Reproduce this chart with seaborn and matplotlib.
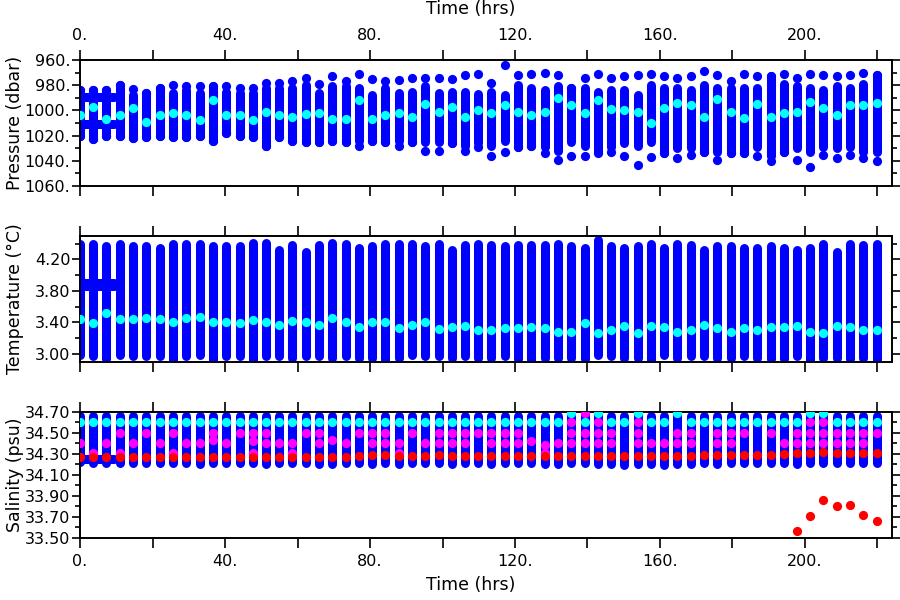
import numpy as np
import pandas as pd
import seaborn as sns
import matplotlib.pyplot as plt
from matplotlib.ticker import MultipleLocator, FixedLocator, FuncFormatter

# --- DATA ---
nan = np.nan

# profile times (hrs)
time_hrs = [0.0, 3.7, 7.3, 11.0, 14.7, 18.3, 22.0, 25.6, 29.3, 33.0,
            36.6, 40.3, 44.0, 47.6, 51.3, 54.9, 58.6, 62.3, 65.9, 69.6,
            73.3, 76.9, 80.6, 84.2, 87.9, 91.6, 95.2, 98.9, 102.6, 106.2,
            109.9, 113.5, 117.2, 120.9, 124.5, 128.2, 131.9, 135.5, 139.2, 142.9,
            146.5, 150.2, 153.8, 157.5, 161.2, 164.8, 168.5, 172.2, 175.8, 179.5,
            183.2, 186.8, 190.5, 194.1, 197.8, 201.5, 205.1, 208.8, 212.5, 216.1,
            219.8]

# short series at the start, drawn as horizontal rows of dots
band_t = [0.0, 9.5]

# pressure (dbar)
p_top = [984, 984, 984, 980, 983, 986, 982, 980, 981, 981,
         981, 981, 982, 982, 978, 978, 977, 974, 979, 973,
         977, 971, 975, 977, 976, 974, 974, 974, 975, 972,
         971, 978, 964, 972, 971, 970, 972, 982, 974, 971,
         974, 973, 972, 971, 973, 974, 973, 969, 972, 977,
         971, 973, 973, 971, 974, 971, 972, 973, 972, 970,
         972]
p_body_top = [984, 984, 984, 980, 988, 986, 982, 986, 984, 986,
              981, 985, 986, 986, 982, 982, 982, 980, 986, 981,
              981, 982, 988, 982, 986, 985, 981, 986, 985, 985,
              987, 985, 988, 980, 982, 984, 981, 982, 982, 985,
              984, 984, 988, 980, 982, 982, 984, 980, 982, 982,
              982, 982, 973, 979, 981, 982, 984, 981, 982, 979,
              972]
p_body_bot = [1020, 1023, 1020, 1020, 1022, 1021, 1020, 1021, 1021, 1020,
              1024, 1018, 1020, 1021, 1028, 1021, 1024, 1025, 1025, 1024,
              1025, 1024, 1024, 1025, 1024, 1025, 1025, 1025, 1026, 1028,
              1026, 1028, 1024, 1029, 1028, 1029, 1032, 1025, 1028, 1032,
              1029, 1026, 1028, 1025, 1034, 1030, 1030, 1033, 1033, 1034,
              1034, 1029, 1036, 1033, 1030, 1033, 1029, 1030, 1029, 1033,
              1033]
p_bot = [1020, 1023, 1020, 1020, 1022, 1021, 1020, 1021, 1021, 1020,
         1024, 1018, 1020, 1021, 1028, 1021, 1024, 1025, 1025, 1024,
         1025, 1028, 1024, 1025, 1028, 1025, 1032, 1032, 1026, 1032,
         1029, 1036, 1033, 1029, 1028, 1034, 1039, 1036, 1036, 1034,
         1033, 1036, 1043, 1037, 1034, 1038, 1035, 1033, 1039, 1034,
         1034, 1036, 1040, 1033, 1039, 1045, 1035, 1038, 1035, 1038,
         1040]
p_mean = [1004, 997, 1007, 1004, 998, 1009, 1004, 1002, 1004, 1008,
          992, 1004, 1004, 1008, 1001, 1004, 1005, 1003, 1002, 1007,
          1007, 992, 1007, 1004, 1002, 1005, 995, 1001, 997, 1005,
          1000, 1002, 996, 1001, 1004, 1001, 990, 996, 1002, 992,
          999, 1000, 1001, 1010, 998, 994, 996, 1005, 991, 1001,
          1006, 995, 1005, 1002, 1001, 993, 998, 1004, 996, 996,
          994]
p_band = [989, 1011]

# temperature (deg C)
t_top = [4.39, 4.39, 4.37, 4.39, 4.37, 4.37, 4.35, 4.39, 4.39, 4.39,
         4.37, 4.37, 4.37, 4.41, 4.41, 4.32, 4.38, 4.30, 4.38, 4.41,
         4.39, 4.34, 4.37, 4.39, 4.39, 4.39, 4.37, 4.39, 4.32, 4.38,
         4.39, 4.38, 4.37, 4.38, 4.38, 4.38, 4.40, 4.37, 4.34, 4.45,
         4.37, 4.34, 4.37, 4.40, 4.34, 4.39, 4.38, 4.32, 4.37, 4.37,
         4.35, 4.34, 4.37, 4.34, 4.32, 4.35, 4.39, 4.30, 4.39, 4.38,
         4.39]
t_bot = [2.99, 2.98, 2.93, 2.99, 2.97, 2.97, 2.97, 2.92, 2.97, 2.99,
         2.92, 2.97, 2.97, 2.92, 2.97, 2.97, 2.95, 2.97, 2.97, 2.95,
         2.97, 2.95, 2.95, 2.92, 2.95, 2.99, 2.97, 2.97, 2.95, 2.97,
         2.95, 2.95, 2.97, 2.93, 2.92, 2.95, 2.95, 2.95, 2.93, 2.99,
         2.97, 2.95, 2.95, 2.92, 2.99, 2.95, 2.97, 2.97, 2.95, 2.95,
         2.97, 2.95, 2.93, 2.94, 2.97, 2.92, 2.95, 2.95, 2.93, 2.95,
         2.92]
t_mean = [3.44, 3.39, 3.52, 3.44, 3.44, 3.45, 3.44, 3.40, 3.45, 3.47,
          3.40, 3.40, 3.39, 3.43, 3.41, 3.37, 3.42, 3.40, 3.37, 3.45,
          3.41, 3.34, 3.40, 3.41, 3.33, 3.37, 3.40, 3.32, 3.34, 3.35,
          3.31, 3.30, 3.33, 3.33, 3.34, 3.33, 3.28, 3.28, 3.39, 3.26,
          3.30, 3.35, 3.27, 3.36, 3.34, 3.28, 3.30, 3.37, 3.33, 3.28,
          3.33, 3.30, 3.34, 3.34, 3.35, 3.28, 3.26, 3.35, 3.34, 3.30,
          3.30]
t_band = [3.90, 3.86]

# salinity (psu)
s_top = [34.66, 34.66, 34.66, 34.66, 34.66, 34.66, 34.66, 34.66, 34.66, 34.66,
         34.66, 34.66, 34.66, 34.66, 34.66, 34.66, 34.66, 34.66, 34.66, 34.66,
         34.66, 34.66, 34.66, 34.66, 34.66, 34.66, 34.66, 34.66, 34.66, 34.66,
         34.66, 34.66, 34.66, 34.66, 34.66, 34.66, 34.66, 34.68, 34.68, 34.68,
         34.66, 34.66, 34.68, 34.66, 34.66, 34.68, 34.66, 34.66, 34.66, 34.66,
         34.66, 34.66, 34.66, 34.66, 34.66, 34.68, 34.68, 34.66, 34.66, 34.66,
         34.66]
s_bot = [34.22, 34.21, 34.21, 34.21, 34.21, 34.21, 34.21, 34.21, 34.21, 34.20,
         34.21, 34.21, 34.21, 34.21, 34.20, 34.21, 34.21, 34.21, 34.20, 34.20,
         34.21, 34.21, 34.20, 34.21, 34.20, 34.21, 34.21, 34.21, 34.20, 34.21,
         34.21, 34.20, 34.21, 34.21, 34.21, 34.20, 34.20, 34.21, 34.21, 34.20,
         34.20, 34.19, 34.20, 34.20, 34.19, 34.20, 34.20, 34.21, 34.20, 34.21,
         34.21, 34.21, 34.21, 34.21, 34.20, 34.21, 34.21, 34.21, 34.21, 34.21,
         34.21]
s_cyan = [34.60, 34.60, 34.60, 34.60, 34.60, 34.60, 34.60, 34.60, 34.60, 34.60,
          34.60, 34.60, 34.60, 34.60, 34.60, 34.60, 34.60, 34.60, 34.60, 34.60,
          34.60, 34.60, 34.60, 34.60, 34.60, 34.60, 34.60, 34.60, 34.60, 34.60,
          34.60, 34.60, 34.60, 34.60, 34.60, 34.60, 34.60, 34.69, 34.60, 34.69,
          34.60, 34.60, 34.69, 34.60, 34.60, 34.69, 34.60, 34.60, 34.60, 34.60,
          34.60, 34.60, 34.60, 34.60, 34.60, 34.69, 34.69, 34.60, 34.60, 34.60,
          34.60]
s_mag_top = [nan, nan, nan, nan, nan, nan, nan, nan, nan, nan,
             nan, nan, nan, nan, nan, nan, nan, nan, nan, nan,
             nan, nan, nan, nan, nan, nan, nan, nan, nan, nan,
             nan, nan, nan, nan, nan, nan, nan, 34.60, 34.69, 34.60,
             nan, nan, 34.60, nan, nan, nan, nan, nan, nan, nan,
             nan, nan, nan, nan, nan, 34.60, 34.60, nan, nan, nan,
             nan]
s_mag_a = [nan, nan, nan, 34.50, nan, 34.50, nan, 34.50, nan, nan,
           34.50, nan, 34.50, 34.50, 34.50, nan, nan, 34.50, 34.50, nan,
           nan, 34.50, 34.50, 34.50, nan, 34.50, nan, 34.50, 34.50, 34.50,
           34.50, 34.50, 34.50, 34.50, nan, nan, nan, 34.50, 34.50, 34.50,
           34.50, nan, 34.50, nan, nan, 34.50, 34.50, nan, 34.50, 34.50,
           34.50, nan, 34.50, nan, 34.50, 34.50, 34.50, 34.50, 34.50, 34.50,
           34.50]
s_mag_b = [34.40, nan, 34.40, nan, 34.40, nan, 34.40, nan, 34.40, 34.40,
           34.43, 34.40, nan, 34.42, 34.40, 34.40, 34.40, nan, 34.40, 34.43,
           34.40, nan, 34.40, 34.40, 34.40, nan, 34.40, 34.40, 34.40, 34.40,
           nan, 34.40, 34.40, 34.40, 34.42, 34.38, 34.40, 34.40, 34.40, 34.40,
           34.40, nan, 34.40, 34.40, 34.40, 34.40, 34.40, nan, 34.40, 34.40,
           nan, nan, nan, 34.40, 34.40, 34.40, 34.40, 34.40, 34.40, 34.40,
           nan]
s_mag_c = [nan, 34.31, nan, 34.31, nan, nan, nan, 34.31, nan, nan,
           nan, nan, nan, 34.31, nan, nan, 34.31, nan, nan, nan,
           nan, nan, nan, nan, 34.31, nan, nan, nan, nan, nan,
           nan, nan, nan, nan, nan, 34.31, nan, nan, nan, nan,
           nan, nan, nan, nan, nan, nan, nan, nan, nan, nan,
           nan, nan, nan, nan, nan, nan, nan, nan, nan, nan,
           nan]
s_red = [34.27, 34.27, 34.27, 34.27, 34.27, 34.27, 34.27, 34.27, 34.27, 34.27,
         34.27, 34.27, 34.27, 34.27, 34.27, 34.27, 34.27, 34.27, 34.27, 34.27,
         34.27, 34.28, 34.29, 34.29, 34.28, 34.28, 34.28, 34.29, 34.28, 34.28,
         34.28, 34.28, 34.28, 34.28, 34.28, 34.28, 34.28, 34.28, 34.28, 34.28,
         34.28, 34.28, 34.28, 34.28, 34.28, 34.28, 34.28, 34.29, 34.29, 34.29,
         34.29, 34.29, 34.29, 34.30, 34.31, 34.31, 34.32, 34.31, 34.31, 34.31,
         34.31]
s_red_low = [nan, nan, nan, nan, nan, nan, nan, nan, nan, nan,
             nan, nan, nan, nan, nan, nan, nan, nan, nan, nan,
             nan, nan, nan, nan, nan, nan, nan, nan, nan, nan,
             nan, nan, nan, nan, nan, nan, nan, nan, nan, nan,
             nan, nan, nan, nan, nan, nan, nan, nan, nan, nan,
             nan, nan, nan, nan, 33.56, 33.71, 33.86, 33.80, 33.81, 33.72,
             33.66]
s_band = [34.25]

# --- STYLE ---
BLUE, CYAN, MAGENTA, RED = "#0000ff", "#00ffff", "#ff00ff", "#ff0000"
LW = 6.5     # column width in points (one dot wide)
DOT = 44     # dot area

sns.set_style("ticks")
plt.rcParams['font.family'] = ['DejaVu Sans']
plt.rcParams['text.color'] = 'black'
plt.rcParams['xtick.color'] = 'black'
plt.rcParams['ytick.color'] = 'black'
plt.rcParams['xtick.labelcolor'] = 'black'
plt.rcParams['ytick.labelcolor'] = 'black'


def columns(ax, lo, hi):
    lc = ax.vlines(time_hrs, lo, hi, color=BLUE, lw=LW, zorder=2)
    lc.set_capstyle('round')


def band(ax, levels):
    lc = ax.hlines(levels, band_t[0], band_t[1], color=BLUE, lw=LW, zorder=2)
    lc.set_capstyle('round')


def dots(ax, values, color, z=3):
    df = pd.DataFrame({"time": time_hrs, "value": values})
    sns.scatterplot(data=df, x="time", y="value", ax=ax, color=color, s=DOT,
                    linewidth=0, zorder=z, legend=False)


fig = plt.figure(figsize=(9, 6), dpi=100)
ax1 = fig.add_axes([0.0889, 0.690, 0.9022, 0.210])
ax2 = fig.add_axes([0.0889, 0.397, 0.9022, 0.210])
ax3 = fig.add_axes([0.0889, 0.104, 0.9022, 0.2095])

# pressure
columns(ax1, p_body_top, p_body_bot)
band(ax1, p_band)
dots(ax1, p_top, BLUE, 2)
dots(ax1, p_bot, BLUE, 2)
dots(ax1, p_mean, CYAN)

# temperature
columns(ax2, t_bot, t_top)
band(ax2, t_band)
dots(ax2, t_mean, CYAN)

# salinity
columns(ax3, s_bot, s_top)
band(ax3, s_band)
dots(ax3, s_mag_top, MAGENTA)
dots(ax3, s_mag_a, MAGENTA)
dots(ax3, s_mag_b, MAGENTA)
dots(ax3, s_mag_c, MAGENTA)
dots(ax3, s_red, RED, 4)
dots(ax3, s_red_low, RED, 4)
dots(ax3, s_cyan, CYAN, 4)

# --- AXES ---
ax1.set_ylim(1060, 960)
ax1.yaxis.set_major_locator(MultipleLocator(20))
ax1.yaxis.set_minor_locator(MultipleLocator(10))
ax1.yaxis.set_major_formatter(FuncFormatter(lambda v, p: f"{v:.0f}."))

ax2.set_ylim(2.9, 4.5)
ax2.yaxis.set_major_locator(FixedLocator([3.0, 3.4, 3.8, 4.2]))
ax2.yaxis.set_minor_locator(FixedLocator([3.2, 3.6, 4.0, 4.4]))
ax2.yaxis.set_major_formatter(FuncFormatter(lambda v, p: f"{v:.2f}"))

ax3.set_ylim(33.5, 34.7)
ax3.yaxis.set_major_locator(FixedLocator([33.5, 33.7, 33.9, 34.1, 34.3, 34.5, 34.7]))
ax3.yaxis.set_minor_locator(FixedLocator([33.6, 33.8, 34.0, 34.2, 34.4, 34.6]))
ax3.yaxis.set_major_formatter(FuncFormatter(lambda v, p: f"{v:.2f}"))

labels = ["Pressure (dbar)", "Temperature (°C)", "Salinity (psu)"]
for ax, lab in zip([ax1, ax2, ax3], labels):
    ax.set_xlim(0, 224)
    ax.xaxis.set_major_locator(MultipleLocator(40))
    ax.xaxis.set_minor_locator(MultipleLocator(20))
    ax.xaxis.set_major_formatter(FuncFormatter(lambda v, p: f"{v:.0f}."))
    ax.tick_params(axis='x', which='both', top=True, bottom=True, direction='out',
                   length=7, width=1.2, labelsize=11.5, pad=5,
                   labeltop=False, labelbottom=False)
    ax.tick_params(axis='y', which='major', left=True, right=True, direction='out',
                   length=6, width=1.2, labelsize=11.5, pad=1)
    ax.tick_params(axis='y', which='minor', left=True, right=True, direction='out',
                   length=3.6, width=1.2)
    for sp in ax.spines.values():
        sp.set_visible(True)
        sp.set_linewidth(1.4)
        sp.set_color("black")
    ax.set_xlabel("")
    ax.set_ylabel("")
    ax.text(-0.08, 0.5, lab, transform=ax.transAxes, rotation=90,
            ha="center", va="center", fontsize=12.5)

ax1.tick_params(axis='x', labeltop=True)
ax3.tick_params(axis='x', labelbottom=True)

fig.text(471 / 900, 1 - 9 / 600, "Time (hrs)", ha="center", va="center", fontsize=12.5)
fig.text(471 / 900, 1 - 585 / 600, "Time (hrs)", ha="center", va="center", fontsize=12.5)

fig.savefig("out.png", dpi=100)
